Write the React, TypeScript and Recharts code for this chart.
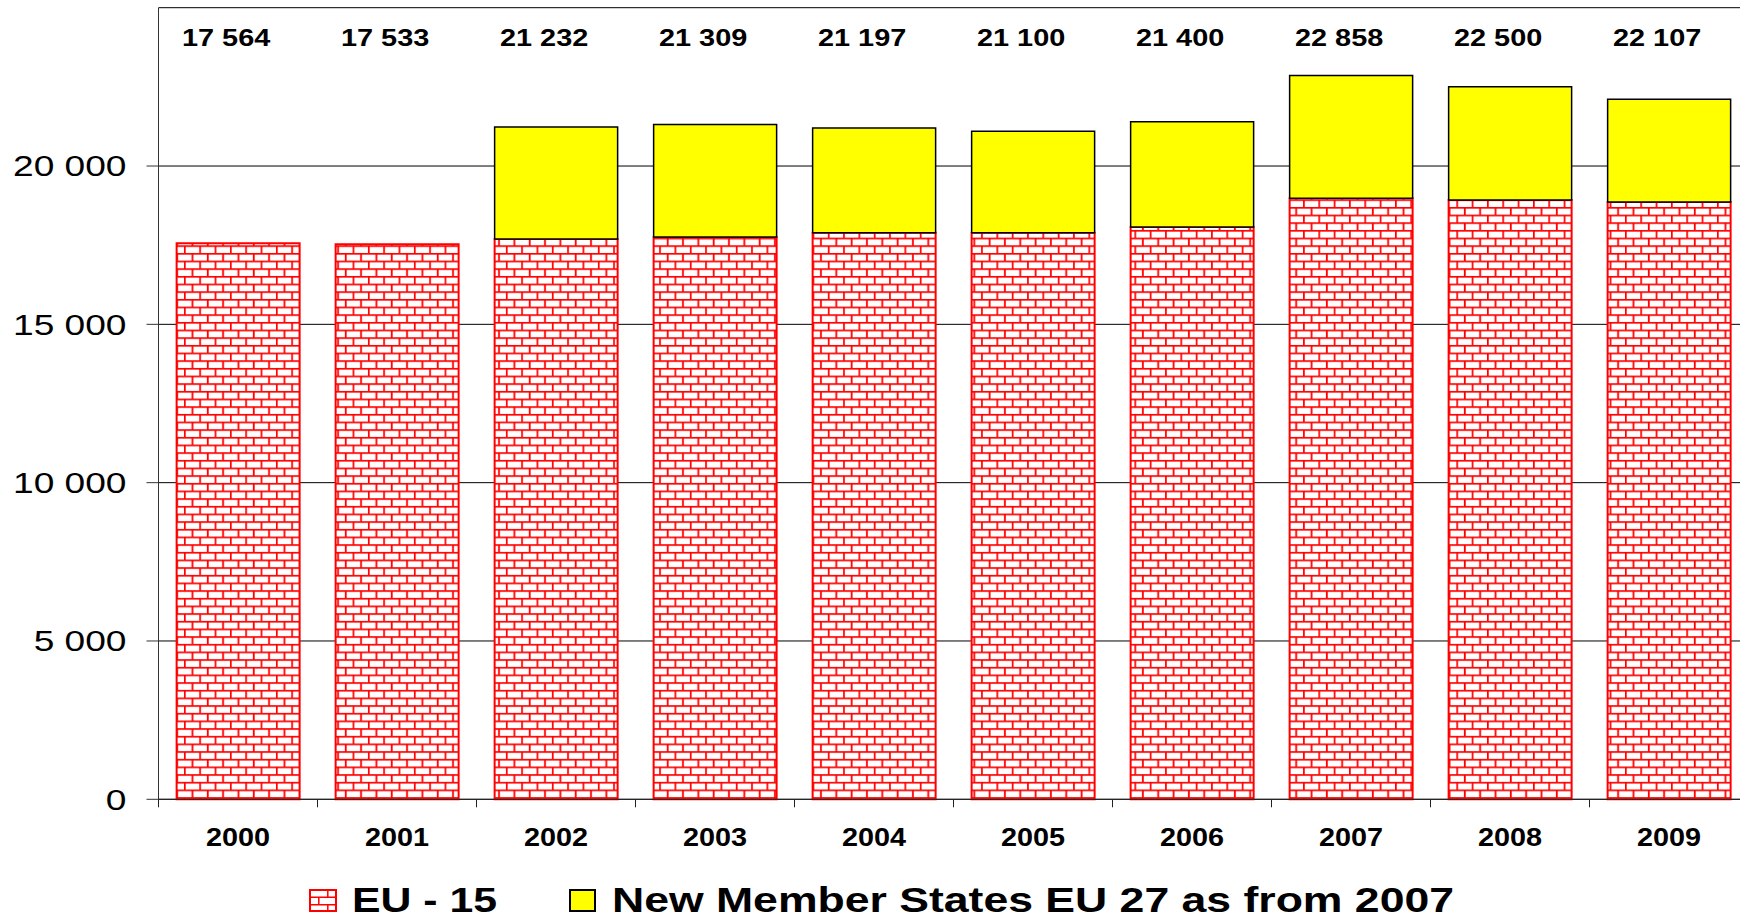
import React from 'react';
import { BarChart, Bar, XAxis, YAxis, CartesianGrid, Legend, LabelList } from 'recharts';

const years = ['2000', '2001', '2002', '2003', '2004', '2005', '2006', '2007', '2008', '2009'];
const eu15 = [17564, 17533, 17695, 17758, 17894, 17894, 18074, 18980, 18926, 18863];
const newMembers: (number | null)[] = [null, null, 3537, 3551, 3303, 3206, 3326, 3878, 3574, 3244];
const yTicks = [0, 5000, 10000, 15000, 20000];
const seriesNames = ['EU - 15', 'New Member States EU 27 as from 2007'];

const data = years.map((year, i) => ({
  year,
  eu15: eu15[i],
  nms: newMembers[i],
  total: eu15[i] + (newMembers[i] ?? 0),
}));

const FONT = '"Liberation Sans", Arial, Helvetica, sans-serif';
const fmt = (v: number) => String(v).replace(/\B(?=(\d{3})+(?!\d))/g, ' ');

const YTick = (props: any) => {
  const { x, y, payload } = props;
  return (
    <g transform={`translate(${x},${y})`}>
      <text
        transform="scale(1.28,1)"
        textAnchor="end"
        dy="0.355em"
        fontFamily={FONT}
        fontSize={29}
        fill="#000"
      >
        {fmt(payload.value)}
      </text>
    </g>
  );
};

const XTick = (props: any) => {
  const { x, y, payload } = props;
  const half = payload && payload.offset ? payload.offset : 79.5;
  return (
    <g>
      <line x1={x - half} y1={y} x2={x - half} y2={y + 8} stroke="#222" strokeWidth={1} />
      <g transform={`translate(${x},${y + 46.5})`}>
        <text
          transform="scale(1.087,1)"
          textAnchor="middle"
          fontFamily={FONT}
          fontWeight="bold"
          fontSize={26.5}
          fill="#000"
        >
          {payload.value}
        </text>
      </g>
    </g>
  );
};

const TotalLabel = (props: any) => {
  const { x, width, value } = props;
  const cx = x + width / 2 - 12;
  return (
    <g transform={`translate(${cx},${37 + 8.8})`}>
      <text
        transform="scale(1.17,1)"
        textAnchor="middle"
        fontFamily={FONT}
        fontWeight="bold"
        fontSize={24.7}
        fill="#000"
      >
        {fmt(value)}
      </text>
    </g>
  );
};

const LegendContent = () => (
  <svg width={1740} height={49} style={{ display: 'block' }}>
    <defs>
      <pattern id="brickSmall" patternUnits="userSpaceOnUse" width={18} height={15} x={309} y={19}>
        <rect width={18} height={15} fill="#fff" />
        <path d="M0 0.8 H18 M0 8.3 H18 M0.8 0 V7.5 M9.8 7.5 V15" stroke="#FF0000" strokeWidth={1.5} fill="none" />
      </pattern>
    </defs>
    <rect x={310} y={20} width={26} height={21} fill="url(#brickSmall)" stroke="#FF0000" strokeWidth={2} />
    <text x={352} y={41.5} fontFamily={FONT} fontWeight="bold" fontSize={35} textLength={145} lengthAdjust="spacingAndGlyphs" fill="#000">
      {seriesNames[0]}
    </text>
    <rect x={570} y={20} width={25} height={21} fill="#FFFF00" stroke="#000" strokeWidth={2} />
    <text x={612} y={41.5} fontFamily={FONT} fontWeight="bold" fontSize={35} textLength={842} lengthAdjust="spacingAndGlyphs" fill="#000">
      {seriesNames[1]}
    </text>
  </svg>
);

export default function App() {
  return (
    <div style={{ position: 'absolute', left: 0, top: 0, width: 1740, height: 919, overflow: 'hidden', background: '#fff' }}>
      <BarChart
        width={1760}
        height={919}
        data={data}
        margin={{ top: 7.7, right: 11.5, bottom: 0, left: 0 }}
        barCategoryGap="11.4%"
      >
        <defs>
          <pattern id="brick" patternUnits="userSpaceOnUse" width={15.33} height={15.33}>
            <rect width={15.33} height={15.33} fill="#fff" />
            <path
              d="M0 0.8 H15.33 M0 8.47 H15.33 M0.8 0 V7.67 M8.47 7.67 V15.33"
              stroke="#FF0000"
              strokeWidth={1.8}
              fill="none"
            />
          </pattern>
        </defs>
        <CartesianGrid vertical={false} stroke="#000" strokeWidth={1} />
        <XAxis
          dataKey="year"
          height={70.7}
          tickLine={false}
          tickSize={0}
          tickMargin={0}
          axisLine={{ stroke: '#222', strokeWidth: 1 }}
          tick={<XTick />}
          interval={0}
        />
        <YAxis
          width={158.5}
          domain={[0, 25000]}
          ticks={yTicks}
          tickSize={12}
          tickMargin={20}
          axisLine={{ stroke: '#333', strokeWidth: 1 }}
          tickLine={{ stroke: '#333', strokeWidth: 1 }}
          tick={<YTick />}
          interval={0}
        />
        <Legend verticalAlign="bottom" height={49} content={<LegendContent />} wrapperStyle={{ left: 0, width: 1740 }} />
        <Bar
          dataKey="eu15"
          name={seriesNames[0]}
          stackId="a"
          fill="url(#brick)"
          stroke="#FF0000"
          strokeWidth={2}
          isAnimationActive={false}
        >
          <LabelList dataKey="total" content={<TotalLabel />} />
        </Bar>
        <Bar
          dataKey="nms"
          name={seriesNames[1]}
          stackId="a"
          fill="#FFFF00"
          stroke="#000"
          strokeWidth={1.5}
          isAnimationActive={false}
        />
      </BarChart>
    </div>
  );
}
